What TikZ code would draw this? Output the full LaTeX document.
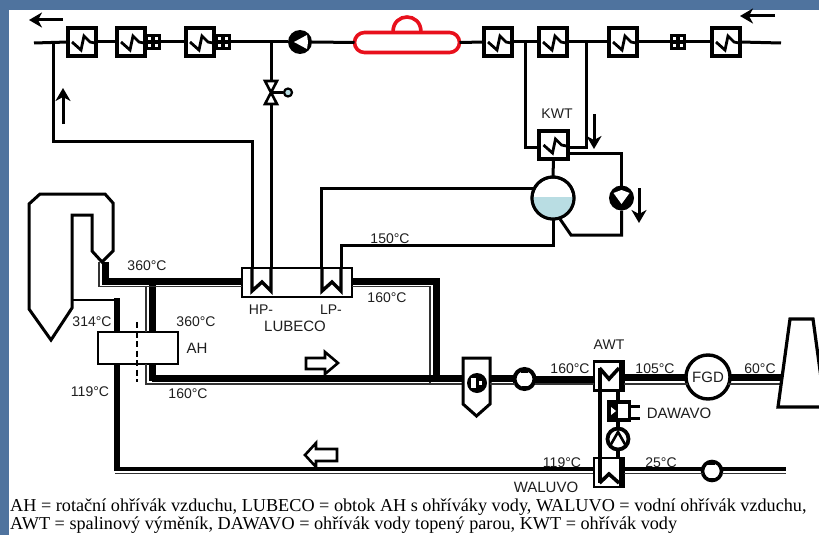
\documentclass[tikz,border=0pt]{standalone}
\usepackage{fontspec}
\setmainfont{Liberation Serif}
\setsansfont{Liberation Sans}
\usetikzlibrary{calc,arrows.meta}
\definecolor{slide}{HTML}{4F739E}
\definecolor{water}{HTML}{B9DDE3}
\definecolor{drumred}{HTML}{E8101C}
\definecolor{lab}{HTML}{1E1E1E}
\tikzset{
  waterline/.style={line width=3pt,line join=miter,draw=black},
  duct/.style={line width=7pt,line cap=butt},
  ductair/.style={line width=6pt},
  ductline/.style={line width=1.8pt,black!80},
  hx/.style={draw,line width=3.2pt,fill=white,minimum width=28pt,minimum height=28pt,inner sep=0pt,outer sep=0pt},
  tinybox/.style={draw,line width=3.2pt,fill=white,minimum width=13pt,minimum height=13pt,inner sep=0pt,outer sep=0pt},
  lbl/.style={font=\sffamily\fontsize{14}{14}\selectfont,text=lab,inner sep=0pt},
  lblwide/.style={font=\sffamily\fontsize{15}{15}\selectfont,text=lab,inner sep=0pt},
  flow/.style={line width=3pt,-{Stealth[length=13pt,width=15pt,inset=4pt]}},
  openarrow/.style={draw,line width=2.6pt,fill=white,line join=miter},
  caption/.style={font=\rmfamily\fontsize{18.2}{18}\selectfont,anchor=base west,inner sep=0pt,text=black}
}
\newcommand{\zigz}[1]{\draw[line width=2.8pt] ([shift={(-10,0)}]#1.center) -- ([shift={(-1,8)}]#1.center) -- ([shift={(2,-6)}]#1.center) -- ([shift={(8,0)}]#1.center) -- ([shift={(13,1)}]#1.center);}
\newcommand{\crs}[1]{\draw[line width=3.2pt] (#1.north) -- (#1.south) (#1.west) -- (#1.east);}
\newcommand{\fanmarks}[1]{\fill[black] ([shift={(-4,-9)}]#1.center) rectangle ([shift={(3,-6.5)}]#1.center); \fill[black] ([shift={(-3,6.5)}]#1.center) rectangle ([shift={(4,9)}]#1.center);}
\begin{document}
\begin{tikzpicture}[x=1pt,y=-1pt]
\useasboundingbox (0,0) rectangle (819,535);
\fill[slide] (0,0) rectangle (819,535);
\fill[white] (9,10) rectangle (819,535);
\begin{scope}
\clip (0,0) rectangle (819,535);

% --- top row equipment
\node[hx] (h1) at (82,42) {}; \zigz{h1}
\node[hx] (h2) at (131,42) {}; \zigz{h2}
\node[hx] (h3) at (200,42) {}; \zigz{h3}
\node[tinybox] (s2) at (153,42) {}; \crs{s2}
\node[tinybox] (s3) at (223,42) {}; \crs{s3}
\node[hx] (h4) at (498,42) {}; \zigz{h4}
\node[hx] (h5) at (553,42) {}; \zigz{h5}
\node[hx] (h6) at (623,42) {}; \zigz{h6}
\node[tinybox] (s6) at (678,42) {}; \crs{s6}
\node[hx] (h7) at (726,42) {}; \zigz{h7}
\node[circle,fill=black,minimum size=24pt,inner sep=0pt,outer sep=0pt] (tp) at (300,42) {};
\fill[white] ([shift={(-6,0)}]tp.center) -- ([shift={(7,-7)}]tp.center) -- ([shift={(8,0)}]tp.center) -- ([shift={(7,7)}]tp.center) -- cycle;
\node[rounded corners=10pt,draw=drumred,line width=3.6pt,fill=white,minimum width=105pt,minimum height=20pt,inner sep=0pt,outer sep=0pt] (drum) at (407,42.5) {};
\draw[draw=drumred,line width=3.6pt] (393,32) .. controls (393,12) and (421,12) .. (421,32);

\coordinate (mainL) at (34,43);
\coordinate (mainR) at (781,43);
\coordinate (tap1) at (53,43);
\coordinate (tap2) at (271,43);
\coordinate (tap3) at (525,43);
\coordinate (tap4) at (586,43);
\draw[waterline] (mainL) -- (h1.west);
\draw[waterline] (h1.east) -- (h2.west);
\draw[waterline] (s2.east) -- (h3.west);
\draw[waterline] (s3.east) -- (tp.west);
\draw[waterline] (tp.east) -- (drum.west);
\draw[waterline] (drum.east) -- (h4.west);
\draw[waterline] (h4.east) -- (h5.west);
\draw[waterline] (h5.east) -- (h6.west);
\draw[waterline] (h6.east) -- (s6.west);
\draw[waterline] (s6.east) -- (h7.west);
\draw[waterline] (h7.east) -- (mainR);

% --- valve
\coordinate (vT) at (271,81);
\coordinate (vB) at (271,104);
\coordinate (vC) at (271,92.5);
\draw[line width=2.6pt,fill=white] (265,81) -- (277,81) -- (265,104) -- (277,104) -- cycle;
\node[circle,draw,line width=2.2pt,fill=water,minimum size=8pt,inner sep=0pt] (vh) at (288,92.5) {};
\draw[line width=2.2pt] (vC) -- (vh);
\draw[waterline] (tap2) -- (vT);

% --- LUBECO
\node[draw,line width=2.8pt,fill=white,minimum width=110pt,minimum height=29pt,inner sep=0pt,outer sep=0pt] (lub) at (297,282.5) {};
\coordinate (hpL) at (252,268);
\coordinate (hpR) at (271,268);
\coordinate (lpL) at (322,268);
\coordinate (lpR) at (341,268);
\draw[line width=3.4pt] (hpL) -- (252,291) -- (262,282) -- (271,291) -- (hpR);
\draw[line width=3.4pt] (lpL) -- (322,291) -- (332,282) -- (341,291) -- (lpR);
\draw[waterline] (vB) -- (hpR);
\draw[waterline] (tap1) -- (53,141) -- (252,141) -- (hpL);

% --- KWT and drum
\node[hx,minimum width=29pt,minimum height=28pt] (kwt) at (553.5,145) {}; \zigz{kwt}
\node[circle,draw,line width=3pt,fill=white,minimum size=42pt,inner sep=0pt,outer sep=0pt] (ts) at (553,198) {};
\begin{scope}
\clip (532,197) rectangle (575,222);
\fill[water] (ts.center) circle (20);
\end{scope}
\draw[line width=3pt] (ts.center) circle (21);
\node[circle,fill=black,minimum size=25pt,inner sep=0pt,outer sep=0pt] (kp) at (621.5,198) {};
\fill[white] ([shift={(0,6)}]kp.center) -- ([shift={(-8,-5)}]kp.center) -- ([shift={(0,-8)}]kp.center) -- ([shift={(8,-5)}]kp.center) -- cycle;
\draw[waterline] (tap3) -- (525,147) -- (kwt.west |- 0,147);
\draw[waterline] (tap4) -- (586,147) -- (kwt.east |- 0,147);
\draw[waterline] (kwt.east |- 0,153) -- (621.5,153) -- (kp.north);
\draw[waterline] (kp.south) -- (621.5,235) -- (571,235) -- (560,219);
\draw[waterline] (kwt.south) -- (ts.north);
\coordinate (tsL) at ($(ts.center)+(-19,-10)$);
\draw[waterline] (tsL) -- (321,188) -- (321,268.5);
\draw[waterline] (ts.south) -- (553,245) -- (341,245) -- (lpR);

% --- boiler
\draw[line width=3pt,fill=white,line join=miter] (29,204) -- (40,194) -- (105,194) -- (113,203) -- (113,251) -- (102,262) -- (92,251) -- (92,215) -- (72,215) -- (72,308) -- (51,340) -- (29,309) -- cycle;

% --- AH
\node[draw,line width=2.8pt,fill=white,minimum width=80pt,minimum height=32pt,inner sep=0pt,outer sep=0pt] (ah) at (138,348) {};

% --- flue gas ducts
\coordinate (b1) at (105,262);
\coordinate (j1) at (152,281);
\coordinate (j2) at (152,378);
\coordinate (c1) at (436,281);
\coordinate (c2) at (436,378);
\draw[duct] (b1) -- (105,284.5);
\draw[duct] (105,281) -- (j1);
\draw[duct] (j1) -- (lub.west |- j1);
\draw[duct] (lub.east |- c1) -- (c1) -- (c2);
\draw[duct] ($(j1)+(0,-3)$) -- (ah.north -| j1);
\draw[duct] (ah.south -| j2) -- ($(j2)+(0,3)$);
\draw[ductline] (99,262) -- (99,286.5) -- (146,286.5) -- (146,332);
\draw[ductline] (146,286.5) -- (lub.west |- 0,286.5);
\draw[ductline] (lub.east |- 0,286.5) -- (430,286.5) -- (430,384);
\draw[ductline] (146,364) -- (146,384) -- (463,384);

% --- dashed shaft
\draw[line width=2.2pt,dash pattern=on 6pt off 3.5pt] (137,322) -- (137,382);

% --- hot air
\coordinate (air1) at (117,301);
\draw[line width=1.8pt] (72,300) -- (117,300);
\draw[ductair] (117,298) -- (ah.north -| air1);
\draw[ductair] (ah.south -| air1) -- (117,471);
\draw[line width=3.6pt] (115,469) -- (593,469);
\draw[ductline] (115,473.5) -- (593,473.5);

% --- bottom equipment
\draw[duct] (j2) -- (463,378);
\draw[line width=3pt,fill=white,line join=miter] (463,358) -- (490,358) -- (490,404) -- (476.5,416) -- (463,404) -- cycle;
\node[circle,fill=black,minimum size=20pt,inner sep=0pt,outer sep=0pt] (espc) at (477,383) {};
\fill[white] (471,378) rectangle (475.5,388);
\fill[white] (479,381) rectangle (481.5,385);
\draw[duct] (490,378) -- (513,378);

\node[circle,draw,line width=4pt,fill=white,minimum size=20pt,inner sep=0pt,outer sep=0pt] (f1) at (524.5,379) {};
\fanmarks{f1}
\node[draw,line width=2.4pt,fill=white,minimum width=30pt,minimum height=29pt,inner sep=0pt,outer sep=0pt] (awt) at (609,376) {};
\fill[black] (619,361.5) rectangle (625,390.5);
\node[circle,draw,line width=3.4pt,fill=white,minimum size=44pt,inner sep=0pt,outer sep=0pt] (fgd) at (708,377) {};
\draw[duct] (f1.east) -- (awt.west |- f1);
\draw[ductline] (f1.east |- 0,384) -- (awt.west |- 0,384);
\draw[ductline] (490,384) -- (f1.west |- 0,384);
\draw[duct] (awt.east |- fgd) -- (fgd.west);
\draw[ductline] (awt.east |- 0,384) -- (688,384);
\draw[duct] (fgd.east) -- (786,377);
\draw[ductline] (728,384) -- (784,384);

% --- stack
\draw[line width=3.2pt,fill=white,line join=miter] (778,407) -- (790,319) -- (813,319) -- (825,407) -- cycle;

% --- lower exchangers
\node[draw,line width=2.4pt,fill=white,minimum width=30pt,minimum height=29pt,inner sep=0pt,outer sep=0pt] (wal) at (609,472.5) {};
\fill[black] (619,458) rectangle (625,487);
\node[draw,line width=3.2pt,fill=white,minimum width=21pt,minimum height=18pt,inner sep=0pt,outer sep=0pt] (daw) at (619,411) {};
\fill[black] (608.5,402) rectangle (617.5,420);
\fill[white] (611,407) -- (616,411) -- (611,415) -- cycle;
\node[circle,draw,line width=3.8pt,fill=white,minimum size=21pt,inner sep=0pt,outer sep=0pt] (wp) at (618,439) {};
\draw[line width=2.6pt,line join=miter] (610,446) -- (618,432) -- (626,446);
\coordinate (awtL) at (599.5,368);
\coordinate (awtR) at (619,368);
\draw[line width=4pt] (awtL) -- (599.5,483);
\draw[line width=3.6pt] (awtL) -- (609,379) -- (awtR);
\draw[line width=3.6pt] (599.5,483) -- (609,474) -- (619,483);
\draw[line width=3.4pt] (awt.south -| wp) -- (daw.north -| wp);
\draw[line width=3.4pt] (daw.south -| wp) -- (wp.north);
\draw[line width=3.4pt] (wp.south) -- (wal.north -| wp);
\draw[waterline] (daw.east |- 0,406) -- (640,406);
\draw[waterline] (daw.east |- 0,418) -- (640,418);

\node[circle,draw,line width=3.6pt,fill=white,minimum size=19pt,inner sep=0pt,outer sep=0pt] (f2) at (712,471) {};
\fanmarks{f2}
\draw[line width=3.6pt] (wal.east |- 0,469) -- (f2.west |- 0,469);
\draw[line width=3.6pt] (f2.east |- 0,469) -- (786,469);
\draw[ductline] (wal.east |- 0,473.5) -- (f2.west |- 0,473.5);
\draw[ductline] (f2.east |- 0,473.5) -- (786,473.5);

% --- arrows
\coordinate (a1s) at (63,20); \coordinate (a1e) at (29,20);
\draw[flow] (a1s) -- (a1e);
\coordinate (a2s) at (775,16); \coordinate (a2e) at (740,16);
\draw[flow] (a2s) -- (a2e);
\coordinate (a3s) at (63,124); \coordinate (a3e) at (63,88);
\draw[flow] (a3s) -- (a3e);
\coordinate (a4s) at (594,114); \coordinate (a4e) at (594,149);
\draw[flow] (a4s) -- (a4e);
\coordinate (a5s) at (639,188); \coordinate (a5e) at (639,223);
\draw[flow] (a5s) -- (a5e);
\draw[openarrow] (306,358) -- (325,358) -- (325,352) -- (338,363) -- (325,374) -- (325,369) -- (306,369) -- cycle;
\draw[openarrow] (337,449) -- (316,449) -- (316,443) -- (305,455) -- (316,467) -- (316,461) -- (337,461) -- cycle;

% --- labels
\node[lbl] (l1) at (147,265.5) {360°C};
\node[lbl] (l2) at (196,322) {360°C};
\node[lbl] (l3) at (92,322) {314°C};
\node[lblwide] (l4) at (197,348) {AH};
\node[lbl] (l5) at (90,392) {119°C};
\node[lbl] (l6) at (188,394) {160°C};
\node[lbl] (l7) at (261,310) {HP-};
\node[lbl] (l8) at (331,310) {LP-};
\node[lblwide] (l9) at (295,326) {LUBECO};
\node[lbl] (l10) at (390,239) {150°C};
\node[lbl] (l11) at (387,298) {160°C};
\node[lbl] (l12) at (557,114) {KWT};
\node[lbl] (l13) at (570,369) {160°C};
\node[lbl] (l14) at (609,345) {AWT};
\node[lbl] (l15) at (655,369) {105°C};
\node[lblwide] (l16) at (708,377) {FGD};
\node[lbl] (l17) at (760,369) {60°C};
\node[lblwide] (l18) at (679,413) {DAWAVO};
\node[lbl] (l19) at (562,463) {119°C};
\node[lbl] (l20) at (661,463) {25°C};
\node[lblwide] (l21) at (546,487) {WALUVO};
\node[caption] (c1t) at (10,511) {AH = rotační ohřívák vzduchu, LUBECO = obtok AH s ohříváky vody, WALUVO = vodní ohřívák vzduchu,};
\node[caption] (c2t) at (10,529) {AWT = spalinový výměník, DAWAVO = ohřívák vody topený parou, KWT = ohřívák vody};
\end{scope}
\end{tikzpicture}
\end{document}
